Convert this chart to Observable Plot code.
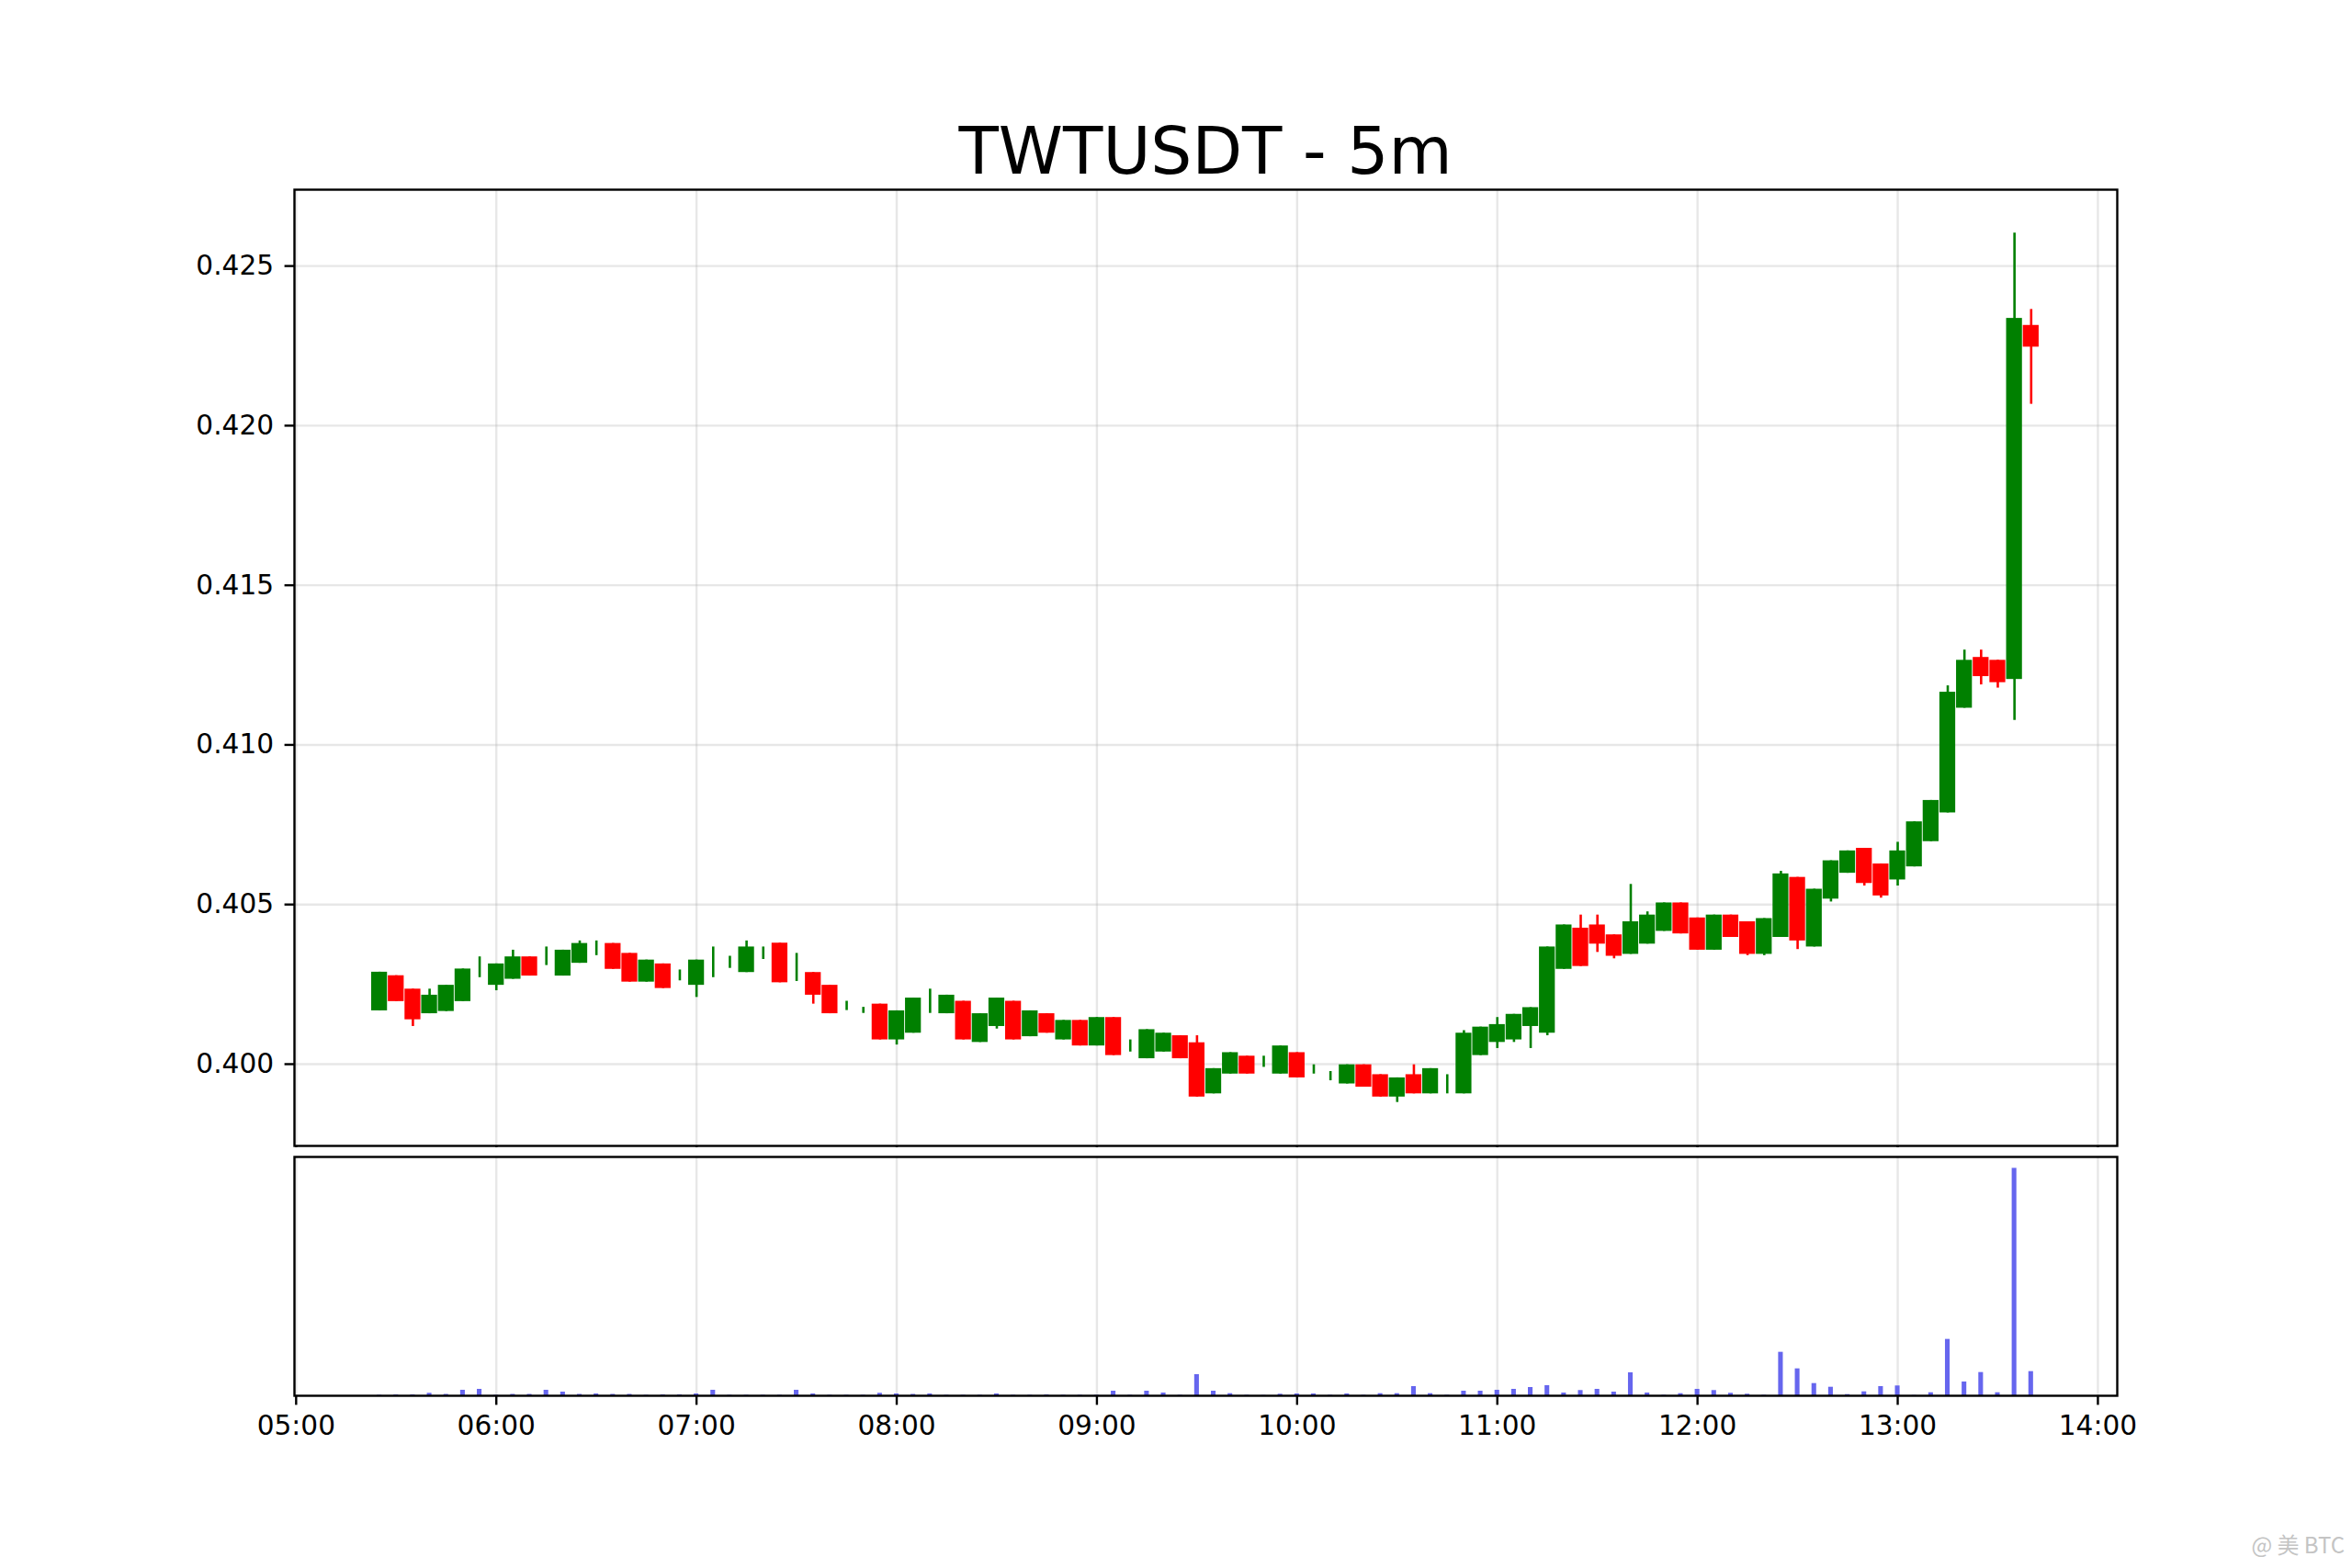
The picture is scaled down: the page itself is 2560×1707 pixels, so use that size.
<!DOCTYPE html>
<html>
<head>
<meta charset="utf-8">
<script src="https://cdn.jsdelivr.net/npm/d3@7"></script>
<script src="https://cdn.jsdelivr.net/npm/@observablehq/plot@0.6"></script>
<style>
  html, body { margin: 0; padding: 0; background: #fff; }
  #page { position: relative; width: 2560px; height: 1707px; background: #fff; overflow: hidden; font-family: "DejaVu Sans", sans-serif; }
  #title { position: absolute; left: 320px; width: 1984px; top: 129px; text-align: center; font-size: 71px; line-height: 71px; color: #000; }
  #price { position: absolute; left: 0; top: 196px; }
  #volume { position: absolute; left: 0; top: 1249px; }
  #mark { position: absolute; right: 8px; top: 1663px; font-size: 24px; color: #c4c4c4; font-family: "Noto Sans CJK SC", "DejaVu Sans", sans-serif; }
</style>
</head>
<body>
<div id="page">
  <div id="title">TWTUSDT - 5m</div>
  <div id="price"></div>
  <div id="volume"></div>
  <div id="mark">@ 美 BTC</div>
</div>
<script>
const day = "2024-01-01";
const xStart = "04:59:30";
const xEnd = "14:05:48";
const hourTicks = ["05:00","06:00","07:00","08:00","09:00","10:00","11:00","12:00","13:00","14:00"];
const priceTicks = [0.400, 0.405, 0.410, 0.415, 0.420, 0.425];

const times = [
  "05:25","05:30","05:35","05:40","05:45","05:50","05:55","06:00","06:05","06:10",
  "06:15","06:20","06:25","06:30","06:35","06:40","06:45","06:50","06:55","07:00",
  "07:05","07:10","07:15","07:20","07:25","07:30","07:35","07:40","07:45","07:50",
  "07:55","08:00","08:05","08:10","08:15","08:20","08:25","08:30","08:35","08:40",
  "08:45","08:50","08:55","09:00","09:05","09:10","09:15","09:20","09:25","09:30",
  "09:35","09:40","09:45","09:50","09:55","10:00","10:05","10:10","10:15","10:20",
  "10:25","10:30","10:35","10:40","10:45","10:50","10:55","11:00","11:05","11:10",
  "11:15","11:20","11:25","11:30","11:35","11:40","11:45","11:50","11:55","12:00",
  "12:05","12:10","12:15","12:20","12:25","12:30","12:35","12:40","12:45","12:50",
  "12:55","13:00","13:05","13:10","13:15","13:20","13:25","13:30","13:35","13:40"
];
const open = [
  0.40167,0.40277,0.40235,0.40158,0.40165,0.40196,0.40300,0.40247,0.40266,0.40336,
  0.40340,0.40276,0.40316,0.40370,0.40378,0.40347,0.40257,0.40314,0.40278,0.40247,
  0.40320,0.40320,0.40287,0.40350,0.40379,0.40300,0.40287,0.40247,0.40180,0.40170,
  0.40188,0.40076,0.40097,0.40200,0.40158,0.40197,0.40068,0.40118,0.40197,0.40086,
  0.40158,0.40076,0.40137,0.40057,0.40146,0.40060,0.40017,0.40038,0.40089,0.40067,
  0.39907,0.39969,0.40025,0.40005,0.39969,0.40036,0.39985,0.39960,0.39938,0.39998,
  0.39967,0.39897,0.39967,0.39907,0.39940,0.39907,0.40027,0.40068,0.40076,0.40118,
  0.40097,0.40297,0.40426,0.40436,0.40405,0.40344,0.40376,0.40416,0.40505,0.40458,
  0.40357,0.40467,0.40446,0.40344,0.40397,0.40585,0.40367,0.40517,0.40598,0.40676,
  0.40627,0.40577,0.40618,0.40697,0.40787,0.41115,0.41274,0.41265,0.41205,0.42314
];
const high = [
  0.40288,0.40277,0.40235,0.40235,0.40247,0.40298,0.40336,0.40314,0.40357,0.40336,
  0.40367,0.40357,0.40386,0.40386,0.40378,0.40347,0.40326,0.40314,0.40295,0.40326,
  0.40367,0.40338,0.40386,0.40367,0.40379,0.40347,0.40287,0.40247,0.40197,0.40178,
  0.40188,0.40167,0.40207,0.40235,0.40216,0.40197,0.40158,0.40207,0.40197,0.40167,
  0.40158,0.40137,0.40137,0.40146,0.40146,0.40076,0.40108,0.40097,0.40089,0.40089,
  0.39986,0.40036,0.40025,0.40025,0.40057,0.40036,0.39998,0.39977,0.39998,0.39998,
  0.39967,0.39957,0.39998,0.39986,0.39967,0.40105,0.40116,0.40146,0.40156,0.40177,
  0.40367,0.40436,0.40467,0.40467,0.40405,0.40563,0.40477,0.40505,0.40505,0.40458,
  0.40467,0.40467,0.40446,0.40456,0.40604,0.40585,0.40548,0.40637,0.40668,0.40676,
  0.40627,0.40695,0.40759,0.40826,0.41185,0.41297,0.41297,0.41265,0.42603,0.42364
];
const low = [
  0.40167,0.40196,0.40118,0.40158,0.40165,0.40196,0.40271,0.40230,0.40266,0.40276,
  0.40309,0.40276,0.40316,0.40340,0.40297,0.40257,0.40257,0.40237,0.40261,0.40209,
  0.40271,0.40300,0.40287,0.40328,0.40255,0.40259,0.40188,0.40158,0.40168,0.40159,
  0.40076,0.40060,0.40097,0.40159,0.40158,0.40076,0.40068,0.40110,0.40076,0.40086,
  0.40097,0.40076,0.40057,0.40057,0.40027,0.40038,0.40017,0.40038,0.40017,0.39897,
  0.39907,0.39969,0.39969,0.39990,0.39969,0.39957,0.39969,0.39948,0.39938,0.39928,
  0.39897,0.39880,0.39907,0.39907,0.39907,0.39907,0.40027,0.40049,0.40068,0.40049,
  0.40089,0.40297,0.40306,0.40350,0.40330,0.40344,0.40376,0.40416,0.40408,0.40357,
  0.40357,0.40397,0.40340,0.40340,0.40397,0.40359,0.40367,0.40508,0.40598,0.40558,
  0.40520,0.40558,0.40618,0.40697,0.40787,0.41115,0.41188,0.41178,0.41077,0.42067
];
const close = [
  0.40288,0.40196,0.40139,0.40216,0.40247,0.40298,0.40300,0.40314,0.40336,0.40276,
  0.40340,0.40357,0.40378,0.40370,0.40297,0.40257,0.40326,0.40237,0.40278,0.40326,
  0.40320,0.40320,0.40367,0.40350,0.40255,0.40300,0.40216,0.40158,0.40180,0.40170,
  0.40076,0.40167,0.40207,0.40200,0.40216,0.40076,0.40158,0.40207,0.40076,0.40167,
  0.40097,0.40137,0.40057,0.40146,0.40027,0.40060,0.40108,0.40097,0.40017,0.39897,
  0.39986,0.40036,0.39969,0.40005,0.40057,0.39957,0.39985,0.39960,0.39998,0.39928,
  0.39897,0.39957,0.39907,0.39986,0.39940,0.40097,0.40116,0.40124,0.40156,0.40177,
  0.40367,0.40436,0.40306,0.40376,0.40338,0.40446,0.40467,0.40505,0.40408,0.40357,
  0.40467,0.40397,0.40344,0.40456,0.40596,0.40386,0.40548,0.40637,0.40668,0.40566,
  0.40527,0.40668,0.40759,0.40826,0.41165,0.41265,0.41214,0.41195,0.42336,0.42246
];
const volume = [
  0.5,1,1,2.7,1.5,6,7,0.5,1.5,1.5,
  6,4,1.5,2,1.5,1.5,0.5,1,1,2,
  6,0.5,0.5,0.5,0.5,6,2,0.5,0.5,0.5,
  2.7,2,1.5,2,0.5,0.5,0.5,2,0.5,0.5,
  1,0.5,0.5,0.5,5,0.5,5,3,0.5,23,
  5,2.3,0.5,0.3,1.7,2,2,0.5,2,0.5,
  2.3,2.3,10,2.3,0.5,5,5,6,7,9,
  11,3,5.7,7,4,25,3,0.5,2.3,7,
  5.7,2.7,1.7,0.5,47.3,29.3,13.3,9.3,1.3,4.3,
  10,10.7,0.3,3.3,61.3,15,25.3,3.3,247.3,26.3
];

const toDate = (t) => new Date(`${day}T${t}Z`);
const data = times.map((t, i) => ({
  time: toDate(t), open: open[i], high: high[i], low: low[i], close: close[i], volume: volume[i]
}));
const hours = hourTicks.map(toDate);
const xDomain = [toDate(xStart), toDate(xEnd)];
const MIN = 60000;
const bodyHalf = 2.375 * MIN;
const volHalf = 0.7 * MIN;
const dirColor = (d) => (d.close >= d.open ? "#008000" : "#ff0000");

const lo = d3.min(low), hi = d3.max(high), pad = (hi - lo) * 0.05;

const baseStyle = {
  fontFamily: "DejaVu Sans, sans-serif",
  fontSize: "29.6px",
  color: "black",
  background: "white",
  overflow: "visible"
};

const pricePlot = Plot.plot({
  width: 2560,
  height: 1065,
  marginLeft: 320,
  marginRight: 256,
  marginTop: 10,
  marginBottom: 14,
  style: baseStyle,
  x: { type: "utc", domain: xDomain },
  y: { domain: [lo - pad, hi + pad] },
  marks: [
    Plot.gridX(hours, { stroke: "#b0b0b0", strokeOpacity: 0.3, strokeWidth: 2.4 }),
    Plot.gridY(priceTicks, { stroke: "#b0b0b0", strokeOpacity: 0.3, strokeWidth: 2.4 }),
    Plot.ruleX(data, { x: "time", y1: "low", y2: "high", stroke: dirColor, strokeWidth: 2.6 }),
    Plot.rect(data, {
      x1: (d) => new Date(+d.time - bodyHalf),
      x2: (d) => new Date(+d.time + bodyHalf),
      y1: "open", y2: "close", fill: dirColor
    }),
    Plot.axisY(priceTicks, { tickFormat: d3.format(".3f"), tickSize: 10.4, tickPadding: 12, strokeWidth: 2.4, label: null, stroke: "black" }),
    Plot.axisX(hours, { tickFormat: () => "", tickSize: 10.4, strokeWidth: 2.4, label: null, stroke: "black" }),
    Plot.frame({ stroke: "black", strokeWidth: 2.4 })
  ]
});
document.getElementById("price").appendChild(pricePlot);

const volPlot = Plot.plot({
  width: 2560,
  height: 340,
  marginLeft: 320,
  marginRight: 256,
  marginTop: 10,
  marginBottom: 70,
  style: baseStyle,
  x: { type: "utc", domain: xDomain },
  y: { domain: [0, d3.max(volume) * 1.05], axis: null },
  marks: [
    Plot.gridX(hours, { stroke: "#b0b0b0", strokeOpacity: 0.3, strokeWidth: 2.4 }),
    Plot.rectY(data, {
      x1: (d) => new Date(+d.time - volHalf),
      x2: (d) => new Date(+d.time + volHalf),
      y: "volume", fill: "#6666ee"
    }),
    Plot.axisX(hours, { tickFormat: d3.utcFormat("%H:%M"), tickSize: 10.4, tickPadding: 11, strokeWidth: 2.4, label: null, stroke: "black", fill: "black" }),
    Plot.frame({ stroke: "black", strokeWidth: 2.4 })
  ]
});
document.getElementById("volume").appendChild(volPlot);
</script>
</body>
</html>
